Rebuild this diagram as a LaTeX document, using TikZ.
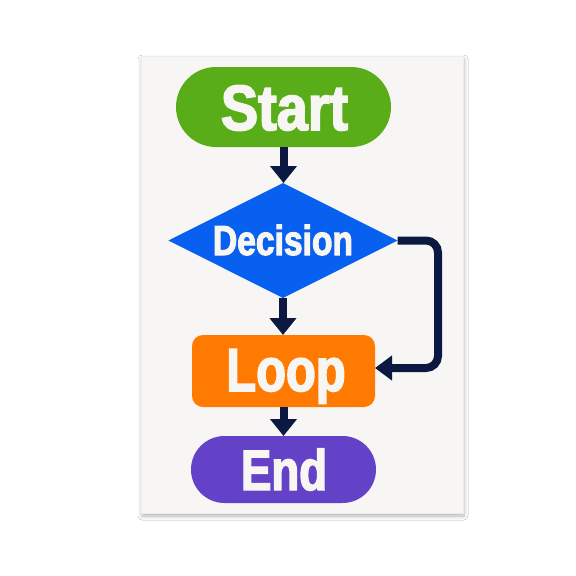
\documentclass[tikz,border=0pt]{standalone}
\usepackage{fontspec}
\setmainfont{Liberation Sans}[FakeStretch=0.8, BoldFeatures={FakeStretch=0.8, FakeBold=2.5}]
\usetikzlibrary{arrows.meta,shapes.geometric,shadows.blur}
\definecolor{cardbg}{HTML}{F7F6F4}
\definecolor{cgreen}{HTML}{58AD19}
\definecolor{cblue}{HTML}{0860F0}
\definecolor{corange}{HTML}{FF7A00}
\definecolor{cpurple}{HTML}{6442C8}
\definecolor{cnavy}{HTML}{0B1942}
\definecolor{ctext}{HTML}{F8F6F2}
\tikzset{
  shapebox/.style={inner sep=0pt, outer sep=0pt},
  lbl/.style={anchor=base, inner sep=0pt, text=ctext, font=\bfseries},
  conn/.style={draw=cnavy, line width=8pt, -{Triangle[width=26pt,length=17pt]}},
}
\begin{document}
\begin{tikzpicture}[x=1pt,y=-1pt]
\useasboundingbox[fill=white] (0,0) rectangle (576,576);
% card
\node[shapebox, fill=cardbg, draw=black!7, line width=0.6pt,
  minimum width=322pt, minimum height=457pt,
  blur shadow={shadow xshift=1pt, shadow yshift=-2.5pt, shadow blur radius=4pt, shadow opacity=30}]
  (card) at (302,285) {};
% shapes
\node[shapebox, fill=cgreen, rounded corners=40pt, minimum width=215pt, minimum height=80pt] (start) at (283.5,107) {};
\node[shapebox, diamond, fill=cblue, minimum width=229pt, minimum height=115pt] (dec) at (283,240.5) {};
\node[shapebox, fill=corange, rounded corners=11pt, minimum width=183pt, minimum height=72pt] (loop) at (283.5,371) {};
\node[shapebox, fill=cpurple, rounded corners=33.5pt, minimum width=185pt, minimum height=67pt] (end) at (283.5,469.5) {};
% labels
\node[lbl, font=\bfseries\fontsize{64}{64}\selectfont] (tstart) at (284.5,130) {\scalebox{1.09}[1]{Start}};
\node[lbl, font=\bfseries\fontsize{42}{42}\selectfont] (tdec) at (283,255) {Decision};
\node[lbl, font=\bfseries\fontsize{61}{61}\selectfont] (tloop) at (286,391) {Loop};
\node[lbl, font=\bfseries\fontsize{57}{57}\selectfont] (tend) at (284,490) {End};
% connectors
\draw[conn] (start.south) -- (start.south |- dec.north);
\draw[conn] (dec.south) -- (dec.south |- loop.north);
\draw[conn] (loop.south) -- (end.north);
\coordinate (c1) at (438,240.5);
\coordinate (c2) at (438,368);
\draw[conn, -{Triangle[width=24pt,length=17pt]}, rounded corners=12pt] (dec.east) -- (c1) -- (c2) -- (c2 -| loop.east);
\end{tikzpicture}
\end{document}
